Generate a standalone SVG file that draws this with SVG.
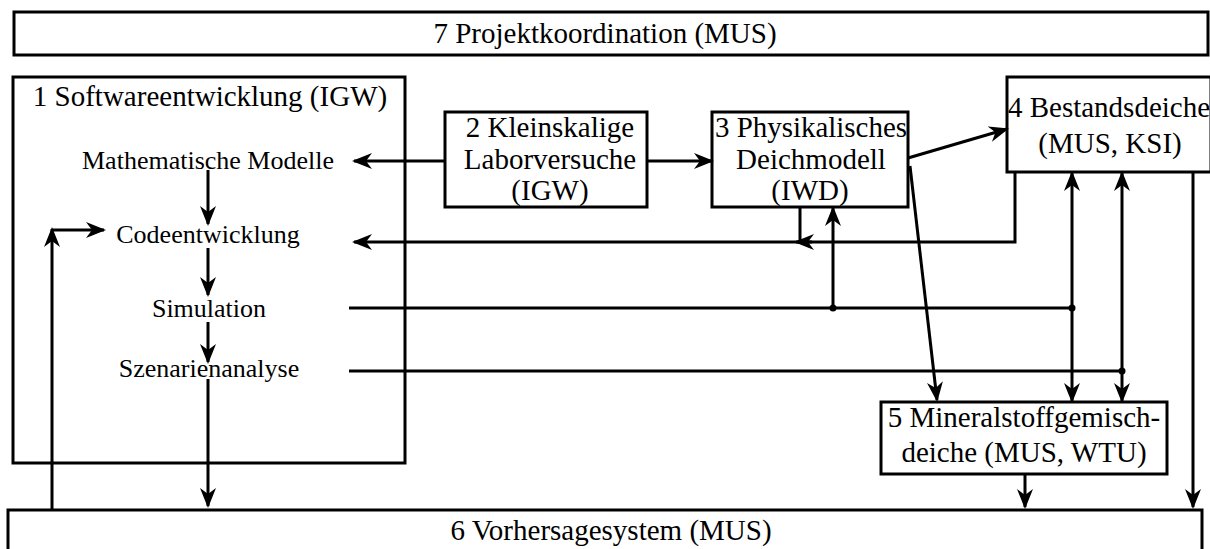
<svg xmlns="http://www.w3.org/2000/svg" width="1210" height="549" viewBox="0 0 1210 549">
<style>
.box{fill:#fff;stroke:#000;stroke-width:3}
.ln{fill:none;stroke:#000;stroke-width:3}
.ar{fill:none;stroke:#000;stroke-width:3;marker-end:url(#ah)}
text{font-family:"Liberation Serif","Times New Roman",serif;fill:#000;text-anchor:middle}
.t29{font-size:29px}
.t26{font-size:26px}
</style>
<defs>
<marker id="ah" viewBox="0 0 20 16" refX="18" refY="8" markerWidth="20" markerHeight="16" markerUnits="userSpaceOnUse" orient="auto">
<path d="M0,0 L20,8 L0,16 L6,8 Z" fill="#000"/>
</marker>
</defs>
<rect width="1210" height="549" fill="#fff"/>

<g id="n7">
<rect class="box" x="14" y="12" width="1194" height="43"/>
<text class="t29" x="605" y="43">7 Projektkoordination (MUS)</text>
</g>

<g id="n1">
<rect class="box" x="13" y="77" width="392" height="386"/>
<text class="t29" x="210" y="106">1 Softwareentwicklung (IGW)</text>
<text class="t26" x="208" y="169">Mathematische Modelle</text>
<text class="t26" x="208" y="243">Codeentwicklung</text>
<text class="t26" x="209" y="317">Simulation</text>
<text class="t26" x="209" y="377">Szenarienanalyse</text>
</g>

<g id="n2">
<rect class="box" x="445" y="112" width="202" height="95"/>
<text class="t29" x="550" y="137">2 Kleinskalige</text>
<text class="t29" x="550" y="169">Laborversuche</text>
<text class="t29" x="550" y="200">(IGW)</text>
</g>

<g id="n3">
<rect class="box" x="712" y="112" width="196" height="95"/>
<text class="t29" x="811" y="137" textLength="192" lengthAdjust="spacingAndGlyphs">3 Physikalisches</text>
<text class="t29" x="811" y="169">Deichmodell</text>
<text class="t29" x="810" y="200">(IWD)</text>
</g>

<g id="n4">
<rect class="box" x="1007" y="77" width="204" height="95"/>
<text class="t29" x="1109" y="117">4 Bestandsdeiche</text>
<text class="t29" x="1110" y="153">(MUS, KSI)</text>
</g>

<g id="n5">
<rect class="box" x="881" y="402" width="286" height="72"/>
<text class="t29" x="1024" y="427">5 Mineralstoffgemisch-</text>
<text class="t29" x="1024" y="462">deiche (MUS, WTU)</text>
</g>

<g id="n6">
<rect class="box" x="8" y="510" width="1194" height="50"/>
<text class="t29" x="611" y="540">6 Vorhersagesystem (MUS)</text>
</g>

<g id="connectors">
<!-- inside box 1 chain -->
<line class="ar" x1="208" y1="170" x2="208" y2="224"/>
<line class="ar" x1="208" y1="248" x2="208" y2="295"/>
<line class="ar" x1="208" y1="322" x2="208" y2="362"/>
<line class="ar" x1="208" y1="379" x2="208" y2="506"/>
<!-- feedback from box 6 to Codeentwicklung -->
<line class="ar" x1="52" y1="510" x2="52" y2="229"/>
<line class="ar" x1="52" y1="230" x2="104" y2="230"/>
<!-- box 2 to Mathematische Modelle -->
<line class="ar" x1="445" y1="161" x2="354" y2="161"/>
<!-- box 2 to box 3 -->
<line class="ar" x1="647" y1="161" x2="712" y2="161"/>
<!-- box 3 to box 4 -->
<line class="ar" x1="908" y1="158" x2="1007" y2="129"/>
<!-- box 3 to box 5 -->
<line class="ar" x1="910" y1="166" x2="937" y2="400"/>
<!-- box 4 to Codeentwicklung -->
<polyline class="ar" points="1015,172 1015,242 354,242"/>
<line class="ln" x1="800" y1="207" x2="800" y2="242"/>
<line class="ar" x1="812" y1="242" x2="796" y2="242"/>
<!-- Simulation line -->
<line class="ln" x1="349" y1="308" x2="1072" y2="308"/>
<circle cx="833" cy="308" r="3.5" fill="#000"/>
<circle cx="1072" cy="308" r="3.5" fill="#000"/>
<line class="ar" x1="833" y1="308" x2="833" y2="208"/>
<line class="ar" x1="1072" y1="308" x2="1072" y2="173"/>
<line class="ar" x1="1072" y1="308" x2="1072" y2="401"/>
<!-- Szenarienanalyse line -->
<line class="ln" x1="349" y1="371" x2="1122" y2="371"/>
<circle cx="1122" cy="371" r="3.5" fill="#000"/>
<line class="ar" x1="1122" y1="371" x2="1122" y2="173"/>
<line class="ar" x1="1122" y1="371" x2="1122" y2="401"/>
<!-- box 4 to box 6 -->
<line class="ar" x1="1193" y1="172" x2="1193" y2="507"/>
<!-- box 5 to box 6 -->
<line class="ar" x1="1025" y1="475" x2="1025" y2="507"/>
</g>
</svg>
